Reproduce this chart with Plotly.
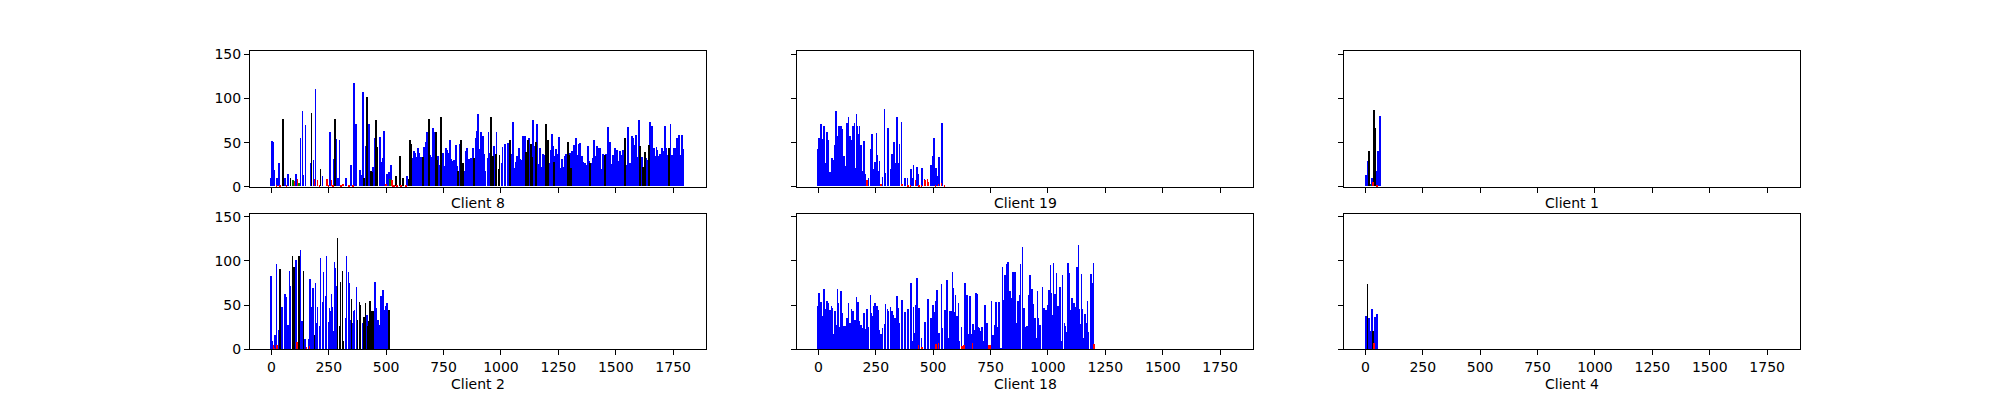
import plotly.graph_objects as go
from plotly.subplots import make_subplots

# ---- Client 8 ----
c8_blue_x = [0, 4, 9, 13, 26, 35, 61, 74, 109, 127, 136, 140, 149, 171, 184, 192, 223, 254, 258, 271,
             284, 289, 297, 324, 346, 359, 367, 385, 389, 398, 411, 424, 429, 442, 451, 472, 477, 486, 490, 503,
             512, 521, 590, 612, 617, 621, 626, 630, 634, 639, 643, 647, 652, 665, 674, 678, 691, 695, 700, 704,
             709, 713, 726, 735, 748, 752, 761, 766, 774, 779, 783, 787, 796, 805, 809, 822, 840, 849, 853, 862,
             866, 871, 879, 888, 892, 897, 901, 910, 914, 923, 927, 933, 942, 946, 950, 968, 972, 981, 1003, 1007,
             1016, 1020, 1029, 1034, 1042, 1047, 1051, 1055, 1060, 1064, 1069, 1077, 1082, 1090, 1095, 1104, 1121, 1125, 1139, 1143,
             1147, 1156, 1165, 1169, 1178, 1182, 1191, 1208, 1213, 1217, 1222, 1226, 1235, 1239, 1243, 1252, 1257, 1265, 1270, 1278,
             1283, 1300, 1309, 1313, 1318, 1322, 1327, 1331, 1340, 1344, 1353, 1357, 1366, 1370, 1379, 1383, 1392, 1397, 1401, 1405,
             1410, 1414, 1418, 1427, 1432, 1440, 1445, 1458, 1467, 1471, 1475, 1480, 1484, 1488, 1493, 1497, 1502, 1506, 1515, 1519,
             1528, 1532, 1545, 1554, 1558, 1563, 1567, 1572, 1576, 1580, 1585, 1589, 1593, 1602, 1615, 1633, 1642, 1650, 1655, 1659,
             1663, 1668, 1672, 1677, 1681, 1690, 1694, 1703, 1707, 1716, 1720, 1729, 1738, 1742, 1746, 1751, 1755, 1760, 1764, 1768,
             1777, 1781, 1790, 1794]
c8_blue_h = [10, 51, 50, 19, 9, 26, 9, 14, 14, 55, 85, 13, 69, 26, 30, 110, 12, 61, 45, 31,
             54, 10, 52, 10, 24, 117, 70, 19, 13, 107, 46, 71, 9, 22, 55, 56, 28, 32, 63, 14,
             16, 24, 12, 32, 29, 40, 38, 33, 23, 44, 38, 21, 33, 45, 50, 62, 36, 33, 29, 66,
             61, 22, 34, 24, 38, 23, 43, 41, 38, 53, 31, 29, 30, 47, 23, 48, 18, 40, 43, 31,
             26, 32, 44, 31, 55, 63, 82, 42, 61, 57, 37, 18, 32, 62, 38, 46, 30, 62, 26, 45,
             48, 47, 49, 43, 28, 37, 73, 45, 21, 28, 34, 44, 31, 30, 57, 57, 55, 18, 75, 46,
             31, 70, 25, 44, 22, 37, 36, 22, 26, 41, 59, 46, 34, 42, 37, 56, 21, 31, 22, 34,
             37, 38, 40, 32, 47, 42, 55, 35, 48, 49, 34, 28, 26, 24, 46, 29, 21, 26, 32, 53,
             32, 34, 46, 44, 44, 20, 37, 37, 67, 35, 50, 25, 20, 35, 33, 44, 28, 41, 29, 40,
             36, 41, 24, 67, 24, 26, 18, 57, 55, 47, 42, 58, 33, 75, 33, 32, 30, 73, 26, 68,
             33, 44, 34, 45, 41, 34, 37, 44, 40, 68, 44, 35, 70, 31, 35, 19, 44, 43, 28, 55,
             58, 36, 58, 42]
c8_black_x = [52, 83, 175, 214, 276, 402, 416, 433, 437, 455, 459, 542, 560, 573, 599, 604, 608, 660, 687, 717,
              722, 739, 814, 827, 835, 884, 955, 959, 964, 977, 990, 994, 1038, 1108, 1117, 1130, 1134, 1152, 1195, 1204,
              1230, 1292, 1296, 1305, 1388, 1453, 1541, 1607, 1620, 1628, 1646, 1733]
c8_black_h = [76, 10, 83, 20, 76, 9, 101, 18, 16, 75, 45, 12, 34, 9, 8, 53, 48, 33, 76, 62,
              30, 79, 18, 53, 26, 32, 78, 57, 34, 37, 20, 36, 53, 39, 53, 48, 33, 50, 71, 53,
              28, 50, 36, 21, 26, 36, 55, 46, 22, 39, 47, 43]
c8_red_x = [22, 39, 66, 101, 114, 188, 201, 210, 241, 249, 262, 267, 302, 311, 337, 354, 499, 525, 529, 534,
            547, 564, 586]
c8_red_h = [2, 2, 2, 6, 8, 8, 7, 2, 8, 2, 7, 2, 2, 3, 2, 2, 3, 7, 2, 2,
            2, 2, 2]
c8_green_x = [96, 122, 516]
c8_green_h = [7, 4, 8]

# ---- Client 19 ----
c19_blue_x = [0, 4, 13, 17, 26, 30, 39, 44, 52, 57, 61, 65, 70, 74, 78, 83, 87, 91, 100, 105,
              113, 118, 126, 131, 139, 144, 148, 152, 157, 161, 166, 170, 174, 179, 187, 192, 200, 205, 218, 227,
              231, 235, 240, 244, 248, 253, 257, 261, 266, 279, 288, 292, 301, 305, 314, 318, 322, 327, 331, 335,
              340, 344, 348, 353, 362, 375, 379, 388, 405, 409, 414, 431, 436, 453, 462, 488, 492, 501, 505, 514,
              518, 527, 540]
c19_blue_h = [42, 55, 71, 54, 68, 27, 62, 53, 16, 29, 32, 30, 39, 47, 85, 57, 48, 68, 68, 65,
              34, 23, 72, 78, 57, 52, 50, 68, 72, 21, 82, 68, 59, 68, 47, 18, 51, 14, 10, 42,
              42, 59, 20, 13, 28, 60, 35, 17, 29, 11, 88, 15, 28, 66, 20, 11, 37, 13, 50, 27,
              38, 79, 27, 48, 73, 9, 10, 10, 20, 10, 24, 22, 14, 21, 8, 14, 24, 34, 55, 21,
              12, 33, 72]
c19_red_x = [213, 274, 366, 392, 401, 423, 440, 449, 466, 475, 479, 510, 523, 536, 549]
c19_red_h = [7, 3, 3, 2, 2, 7, 1, 1, 7, 8, 5, 1, 3, 4, 2]

# ---- Client 1 ----
c1_blue_x = [4, 9, 30, 48, 56, 61, 65]
c1_blue_h = [13, 29, 10, 17, 40, 9, 80]
c1_black_x = [17, 39, 43]
c1_black_h = [40, 86, 66]
c1_red_x = [35, 52]
c1_red_h = [5, 2]
c1_green_x = [22]
c1_green_h = [3]

# ---- Client 2 ----
c2_blue_x = [0, 4, 17, 22, 35, 48, 61, 65, 74, 79, 83, 96, 105, 109, 127, 135, 148, 162, 170, 175,
             179, 183, 192, 196, 201, 210, 214, 223, 227, 236, 240, 249, 253, 258, 262, 266, 271, 275, 279, 284,
             323, 327, 336, 340, 345, 354, 358, 362, 371, 397, 415, 450, 458, 463, 471, 476, 485, 489, 498, 502,
             515]
c2_blue_h = [83, 10, 16, 96, 22, 48, 63, 59, 28, 89, 72, 10, 62, 101, 112, 32, 12, 12, 80, 48,
             50, 69, 75, 30, 48, 26, 103, 54, 88, 60, 106, 31, 47, 43, 63, 48, 21, 99, 92, 72,
             35, 106, 88, 75, 33, 30, 44, 45, 70, 30, 39, 76, 47, 33, 28, 60, 67, 45, 49, 53,
             18]
c2_black_x = [39, 92, 100, 122, 140, 188, 288, 297, 301, 310, 314, 349, 375, 384, 388, 402, 406, 410, 419, 423,
              428, 432, 437, 441, 445, 511]
c2_black_h = [91, 106, 93, 105, 89, 16, 126, 26, 76, 89, 9, 57, 33, 54, 50, 37, 28, 53, 27, 32,
              55, 30, 44, 33, 44, 45]
c2_red_x = [9, 13, 26, 113, 153, 166]
c2_red_h = [5, 2, 5, 8, 3, 4]

# ---- Client 18 ----
c18_blue_x = [0, 4, 13, 17, 26, 30, 39, 44, 52, 57, 61, 65, 70, 74, 78, 83, 87, 91, 100, 105,
              113, 118, 126, 131, 139, 144, 148, 152, 157, 161, 166, 170, 174, 179, 187, 192, 200, 205, 213, 218,
              227, 231, 235, 240, 244, 248, 253, 257, 261, 266, 274, 279, 288, 292, 301, 305, 314, 318, 322, 327,
              331, 335, 340, 344, 348, 353, 362, 366, 375, 379, 388, 392, 401, 405, 409, 414, 418, 423, 427, 431,
              440, 449, 462, 466, 475, 479, 488, 492, 497, 501, 505, 510, 518, 527, 536, 540, 549, 553, 562, 566,
              575, 579, 584, 588, 592, 597, 601, 605, 610, 614, 623, 640, 649, 653, 662, 666, 675, 680, 684, 688,
              693, 697, 701, 710, 714, 723, 727, 736, 754, 758, 762, 767, 771, 775, 780, 784, 788, 797, 802, 810,
              814, 819, 823, 827, 836, 840, 845, 849, 854, 858, 862, 867, 871, 876, 880, 889, 893, 897, 902, 910,
              915, 919, 923, 928, 932, 937, 941, 945, 950, 954, 958, 967, 976, 980, 984, 989, 993, 998, 1006, 1011,
              1015, 1019, 1024, 1028, 1032, 1037, 1041, 1045, 1054, 1059, 1063, 1072, 1076, 1080, 1089, 1094, 1098, 1106, 1111, 1115,
              1120, 1124, 1128, 1133, 1137, 1141, 1146, 1150, 1154, 1163, 1167, 1172, 1176, 1185, 1189, 1194, 1198]
c18_blue_h = [49, 64, 54, 38, 68, 46, 55, 53, 45, 49, 47, 18, 38, 43, 28, 68, 53, 25, 66, 41,
              26, 26, 36, 53, 30, 46, 32, 43, 19, 33, 59, 23, 54, 32, 28, 24, 41, 23, 46, 25,
              61, 41, 38, 46, 49, 53, 36, 49, 45, 22, 17, 24, 29, 51, 46, 44, 48, 28, 43, 39,
              17, 35, 46, 60, 47, 30, 39, 56, 34, 42, 38, 46, 48, 75, 9, 48, 19, 22, 50, 81,
              47, 13, 22, 31, 38, 57, 28, 35, 21, 50, 42, 55, 67, 19, 74, 24, 16, 45, 78, 13,
              44, 43, 87, 69, 42, 62, 21, 38, 53, 9, 25, 75, 61, 18, 60, 17, 29, 22, 41, 64,
              63, 25, 24, 21, 25, 9, 50, 30, 55, 12, 16, 20, 28, 54, 25, 10, 54, 1, 93, 56,
              84, 54, 96, 99, 66, 58, 44, 88, 30, 87, 30, 39, 55, 62, 97, 116, 30, 47, 25, 26,
              50, 62, 84, 41, 68, 51, 29, 36, 13, 66, 35, 28, 71, 30, 47, 25, 45, 50, 67, 95,
              64, 39, 98, 42, 63, 86, 31, 49, 71, 10, 84, 30, 26, 20, 98, 86, 45, 58, 30, 53,
              48, 45, 93, 118, 46, 29, 85, 46, 13, 40, 30, 55, 20, 60, 85, 75, 98]
c18_red_x = [436, 453, 514, 523, 627, 636, 671, 741, 749, 1202]
c18_red_h = [5, 3, 6, 7, 4, 5, 7, 5, 5, 6]

# ---- Client 4 ----
c4_blue_x = [4, 17, 22, 30, 43, 48, 52]
c4_blue_h = [38, 35, 21, 46, 37, 24, 40]
c4_black_x = [9, 35]
c4_black_h = [74, 21]
c4_red_x = [39]
c4_red_h = [7]

titles = ["Client 8", "Client 19", "Client 1", "Client 2", "Client 18", "Client 4"]
x_ticks = [0, 250, 500, 750, 1000, 1250, 1500, 1750]
y_ticks = [0, 50, 100, 150]

panels = [
    [(c8_blue_x, c8_blue_h, "blue"), (c8_black_x, c8_black_h, "black"),
     (c8_red_x, c8_red_h, "red"), (c8_green_x, c8_green_h, "green")],
    [(c19_blue_x, c19_blue_h, "blue"), (c19_red_x, c19_red_h, "red")],
    [(c1_blue_x, c1_blue_h, "blue"), (c1_black_x, c1_black_h, "black"),
     (c1_red_x, c1_red_h, "red"), (c1_green_x, c1_green_h, "green")],
    [(c2_blue_x, c2_blue_h, "blue"), (c2_black_x, c2_black_h, "black"), (c2_red_x, c2_red_h, "red")],
    [(c18_blue_x, c18_blue_h, "blue"), (c18_red_x, c18_red_h, "red")],
    [(c4_blue_x, c4_blue_h, "blue"), (c4_black_x, c4_black_h, "black"), (c4_red_x, c4_red_h, "red")],
]

fig = make_subplots(rows=2, cols=3)

for i, series in enumerate(panels):
    row, col = i // 3 + 1, i % 3 + 1
    for xs, hs, color in series:
        fig.add_trace(go.Bar(x=xs, y=hs, width=3.5, marker_color=color, marker_line_width=0,
                             showlegend=False, hoverinfo="x+y"), row=row, col=col)

# matplotlib-like subplot geometry (figure 2000x400)
x_domains = [[0.125, 0.353], [0.3985, 0.6265], [0.672, 0.9]]
y_domains = [[0.53, 0.88], [0.11, 0.46]]

font = dict(family="DejaVu Sans", size=14, color="black")
for i in range(6):
    row, col = i // 3, i % 3
    fig.update_xaxes(domain=x_domains[col], range=[-93, 1893], tickvals=x_ticks,
                     showticklabels=(row == 1), ticks="outside", ticklen=5, tickwidth=1,
                     tickcolor="black", showline=True, linecolor="black", linewidth=1,
                     mirror=True, showgrid=False, zeroline=False, tickfont=font,
                     row=row + 1, col=col + 1)
    fig.update_yaxes(domain=y_domains[row], range=[0, 153], tickvals=y_ticks,
                     showticklabels=(col == 0), ticks="outside", ticklen=5, tickwidth=1,
                     tickcolor="black", showline=True, linecolor="black", linewidth=1,
                     mirror=True, showgrid=False, zeroline=False, tickfont=font,
                     row=row + 1, col=col + 1)
    fig.add_annotation(text=titles[i], xref="paper", yref="paper",
                       x=sum(x_domains[col]) / 2, y=0.4875 if row == 0 else 0.02,
                       xanchor="center", yanchor="middle", showarrow=False, font=font)

fig.update_layout(barmode="overlay", bargap=0, autosize=True,
                  margin=dict(l=0, r=0, t=0, b=0),
                  plot_bgcolor="white", paper_bgcolor="white")

# fill the window exactly: no page margin, no scrollbars, re-fit after the style change
fix_page = (
    "document.documentElement.style.overflow='hidden';"
    "document.body.style.margin='0';"
    "document.body.style.overflow='hidden';"
    "Plotly.Plots.resize(document.getElementById('{plot_id}'));"
)
fig.write_html("out.html", default_width="100vw", default_height="100vh",
               config={"displayModeBar": False, "responsive": True},
               post_script=fix_page)
